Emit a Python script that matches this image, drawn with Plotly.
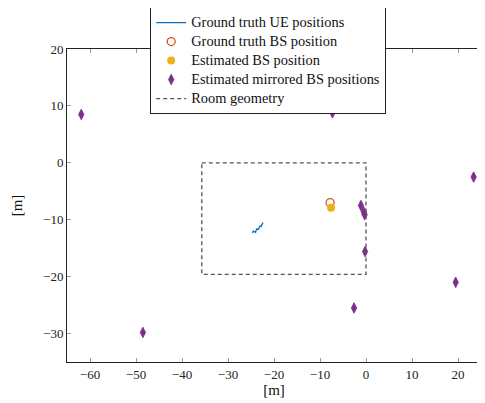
import plotly.graph_objects as go

# Ground truth UE trajectory
ue_x = [-24.7, -24.5, -24.3, -24.0, -23.9, -23.7, -23.5, -23.3, -23.2, -23.0, -22.8, -22.6, -22.5, -22.4]
ue_y = [-12.3, -12.0, -12.1, -12.2, -11.9, -11.6, -11.7, -11.6, -11.3, -11.1, -11.2, -10.8, -10.7, -10.5]

# BS positions
gt_bs_x = [-7.8]
gt_bs_y = [-7.0]
est_bs_x = [-7.6]
est_bs_y = [-7.9]

# Estimated mirrored BS positions
mir_x = [-61.9, -7.3, 23.4, -1.1, -0.5, -0.3, -0.2, -2.6, 19.5, -48.5]
mir_y = [8.5, 8.8, -2.5, -7.5, -8.6, -9.1, -15.6, -25.5, -21.0, -29.8]

# Room geometry
room_x = [-35.7, 0, 0, -35.7, -35.7]
room_y = [0, 0, -19.6, -19.6, 0]

x_ticks = [-60, -50, -40, -30, -20, -10, 0, 10, 20]
y_ticks = [-30, -20, -10, 0, 10, 20]

def lab(v):
    return ("\u2212" + str(abs(v))) if v < 0 else str(v)

def nm(s):
    return '<span style="font-size:14.4px">' + s + '</span>'

fig = go.Figure()
fig.add_trace(go.Scatter(x=ue_x, y=ue_y, mode="lines", name=nm("Ground truth UE positions"),
                         line=dict(color="#0072BD", width=1.3)))
fig.add_trace(go.Scatter(x=gt_bs_x, y=gt_bs_y, mode="markers", name=nm("Ground truth BS position"),
                         marker=dict(symbol="circle-open", size=8, color="#D95319", line=dict(width=1.3))))
fig.add_trace(go.Scatter(x=est_bs_x, y=est_bs_y, mode="markers", name=nm("Estimated BS position"),
                         marker=dict(symbol="circle", size=8, color="#EDB120")))
fig.add_trace(go.Scatter(x=mir_x, y=mir_y, mode="markers", name=nm("Estimated mirrored BS positions"),
                         marker=dict(symbol="diamond-tall", size=7.5, color="#7E2F8E",
                                     line=dict(color="#7E2F8E", width=0.9))))
fig.add_trace(go.Scatter(x=room_x, y=room_y, mode="lines", name=nm("Room geometry"),
                         line=dict(color="#555555", width=1.3, dash="4px,3px")))

font = "Liberation Serif, Times New Roman, serif"
axis_common = dict(showgrid=False, zeroline=False, showline=True, linecolor="#222", linewidth=1,
                   mirror="ticks", ticks="inside", ticklen=4, tickcolor="#999",
                   tickfont=dict(family=font, size=13, color="#222"))

# page body has an 8px margin; size the figure so the plot area lands where the reference has it
fig.update_layout(
    width=477, height=395,
    margin=dict(l=59, r=4, t=41, b=41, autoexpand=False),
    paper_bgcolor="white", plot_bgcolor="white",
    font=dict(family=font, size=13, color="#111"),
    xaxis=dict(range=[-65, 25], tickvals=x_ticks, ticktext=[lab(v) for v in x_ticks],
               title=dict(text="[m]", font=dict(family=font, size=15), standoff=2), **axis_common),
    yaxis=dict(range=[-35, 20], tickvals=y_ticks, ticktext=[lab(v) for v in y_ticks],
               title=dict(text="[m]", font=dict(family=font, size=15), standoff=16), **axis_common),
    legend=dict(x=0.486, y=1.134, xanchor="center", yanchor="top", bgcolor="white",
                bordercolor="#222", borderwidth=1, font=dict(family=font, size=10.1),
                itemwidth=30, tracegroupgap=0),
    showlegend=True,
)

fig.write_html("out.html")
